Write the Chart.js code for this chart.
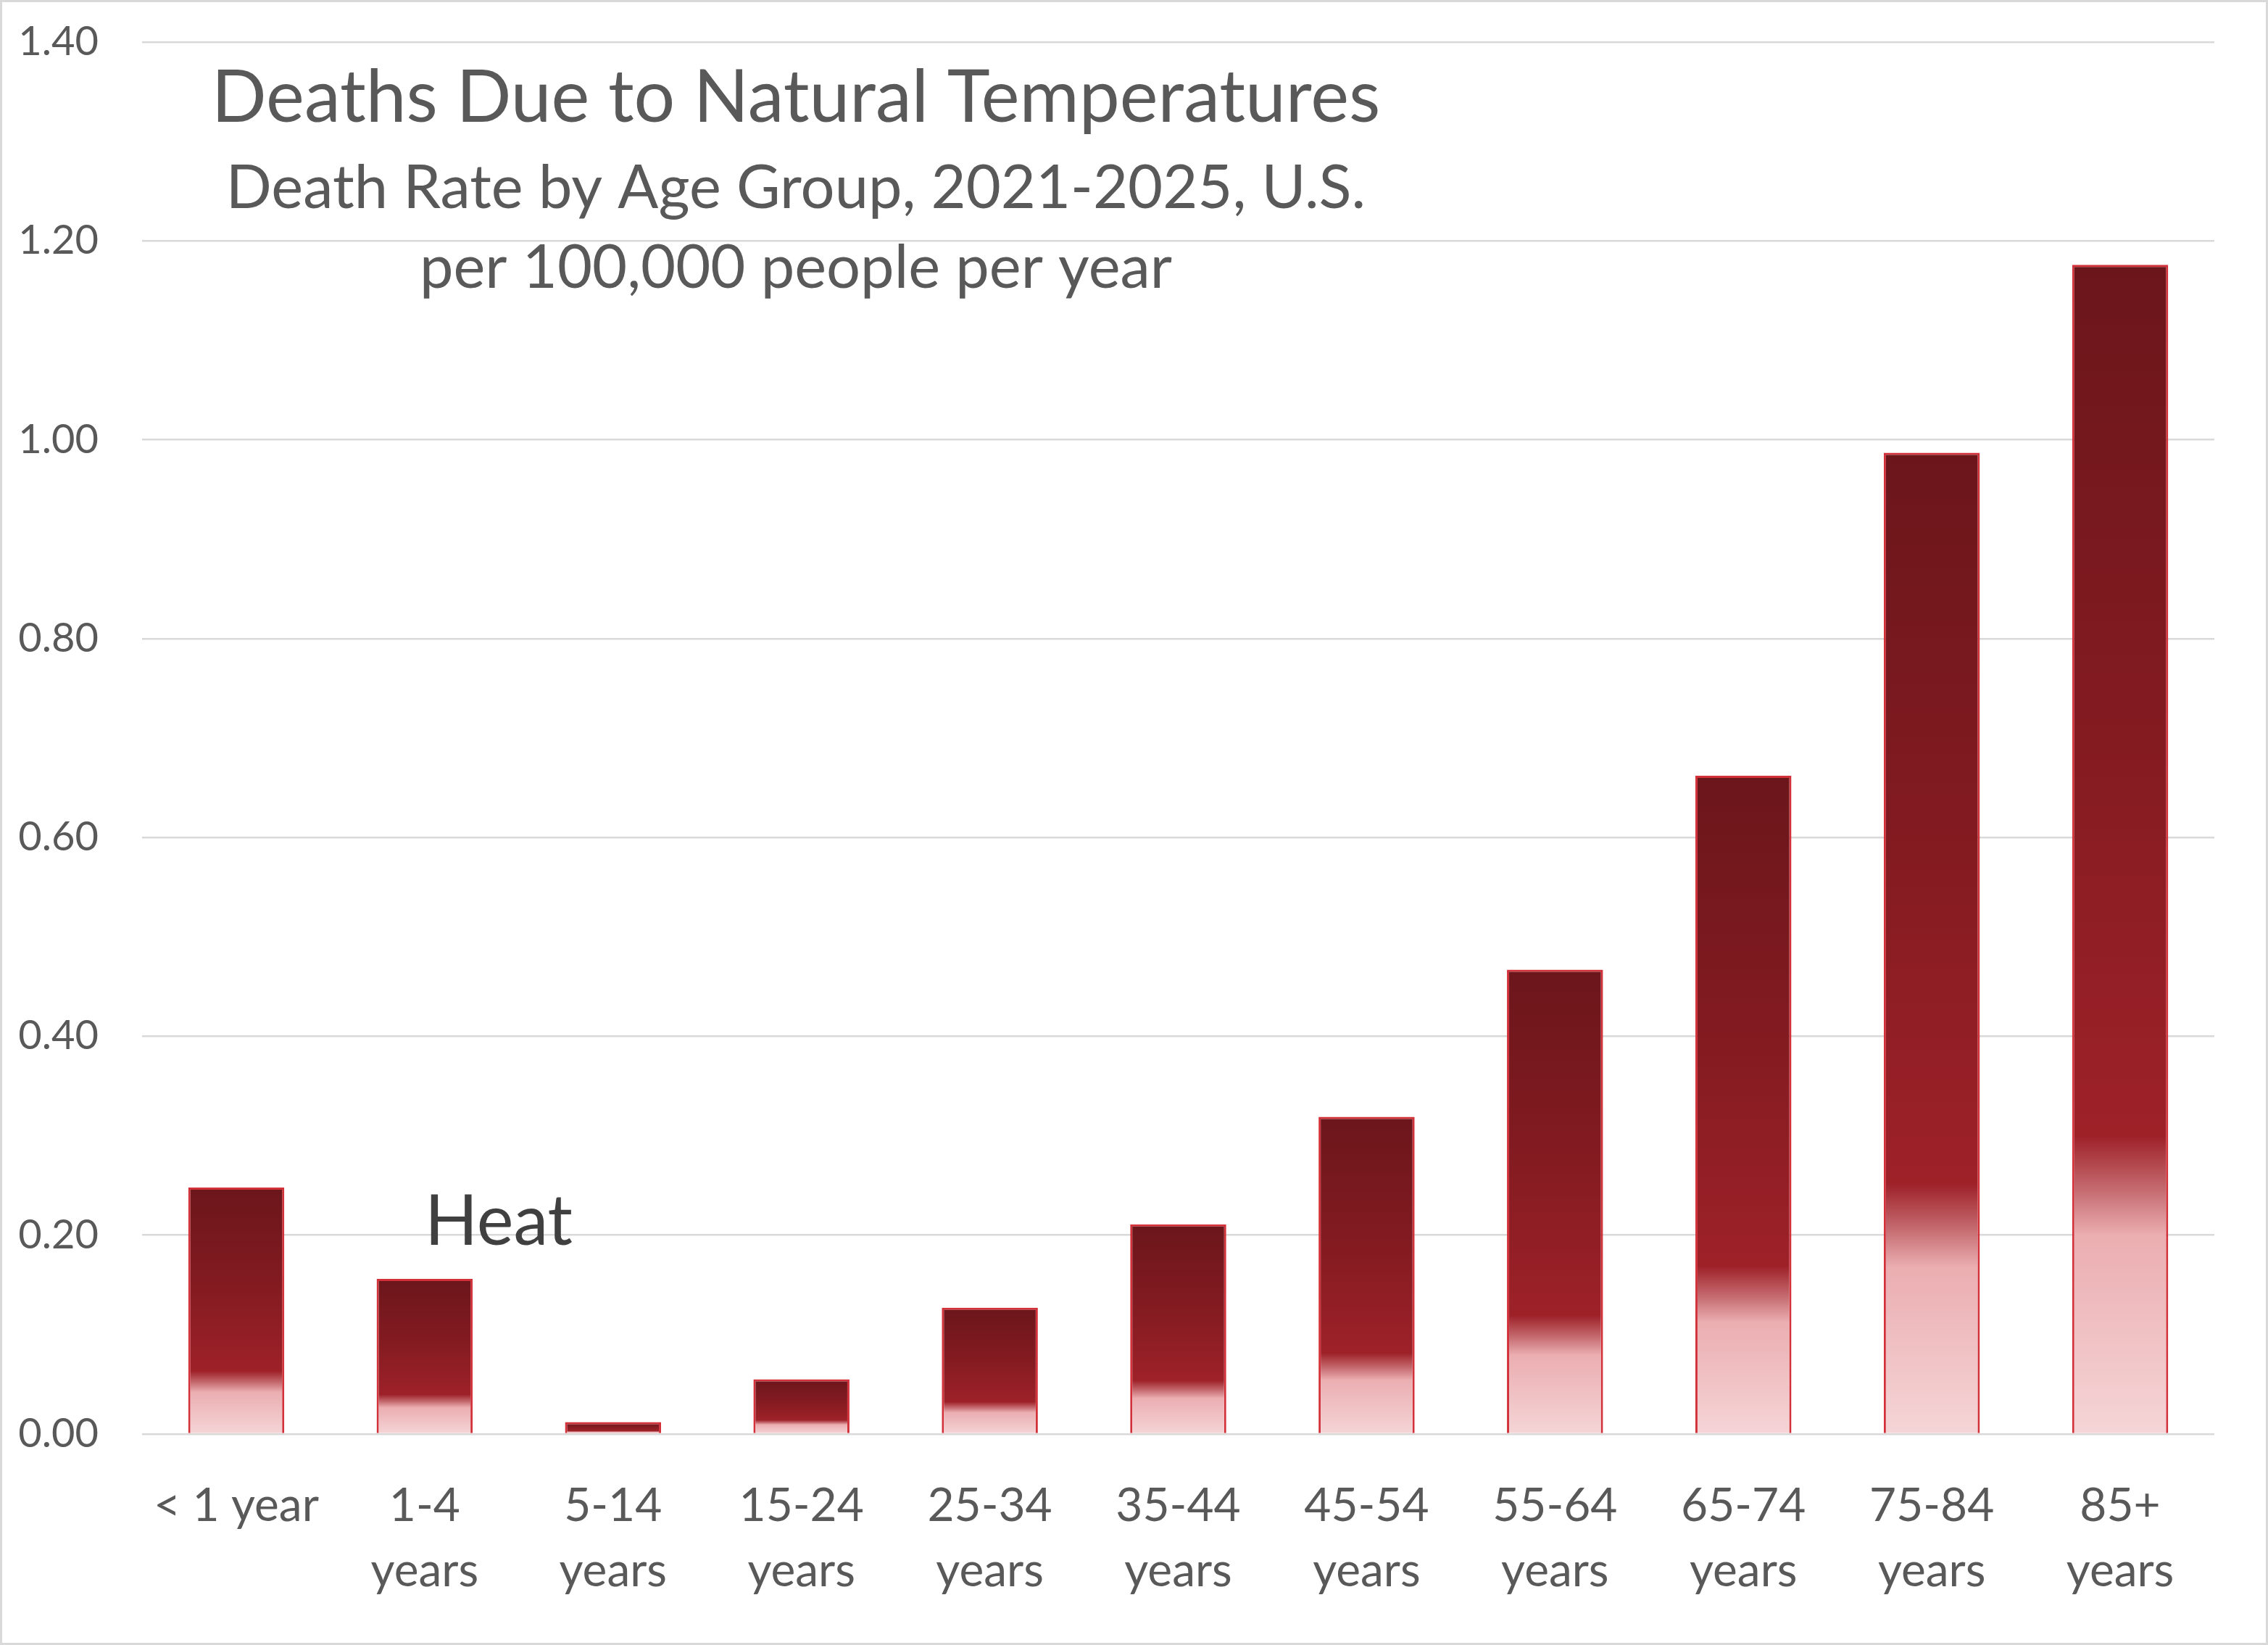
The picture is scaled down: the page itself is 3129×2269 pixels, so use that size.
<!DOCTYPE html>
<html>
<head>
<meta charset="utf-8">
<script src="https://cdn.jsdelivr.net/npm/chart.js@4.4.1/dist/chart.umd.min.js"></script>
<style>
  html, body { margin: 0; padding: 0; background: #fff; }
  #deaths_chart { display: block; outline: 3px solid #d9d9d9; outline-offset: -3px; }
</style>
</head>
<body>
<canvas id="deaths_chart" width="3129" height="2269"></canvas>
<script>
// age groups on the x axis (two lines each, like the original)
const ageGroups = [
  ['< 1 year'],
  ['1-4', 'years'],
  ['5-14', 'years'],
  ['15-24', 'years'],
  ['25-34', 'years'],
  ['35-44', 'years'],
  ['45-54', 'years'],
  ['55-64', 'years'],
  ['65-74', 'years'],
  ['75-84', 'years'],
  ['85+', 'years']
];

// heat death rate per 100,000 per year
const heatRates = [0.248, 0.156, 0.012, 0.055, 0.127, 0.211, 0.319, 0.467, 0.662, 0.987, 1.176];

const yMin = 0;
const yMax = 1.4;
const yStep = 0.2;

const seriesName = 'Heat';
const titleLines = [
  'Deaths Due to Natural Temperatures',
  'Death Rate by Age Group, 2021-2025, U.S.',
  'per 100,000 people per year'
];

const textColor = '#595959';
const fontFamily = 'Lato, "Open Sans", sans-serif';

const ctx_deaths = document.getElementById('deaths_chart');

// each bar gets its own gradient, dark at the top, pink at the bottom
function barGradient(context) {
  const chart = context.chart;
  const yScale = chart.scales.y;
  if (!yScale || !context.parsed) return '#8b1c22';
  const top = yScale.getPixelForValue(context.parsed.y);
  const bottom = yScale.getPixelForValue(0);
  if (!isFinite(top) || !isFinite(bottom) || bottom - top < 1) return '#8b1c22';
  const g = chart.ctx.createLinearGradient(0, top, 0, bottom);
  g.addColorStop(0, '#6b161b');
  g.addColorStop(0.40, '#831b21');
  g.addColorStop(0.745, '#9e2128');
  g.addColorStop(0.79, '#c4696e');
  g.addColorStop(0.83, '#ebaeb1');
  g.addColorStop(1, '#f5d5d7');
  return g;
}

const overlayText = {
  id: 'overlayText',
  afterDraw(chart) {
    const ctx = chart.ctx;
    ctx.save();
    ctx.textAlign = 'center';
    ctx.textBaseline = 'middle';
    ctx.fillStyle = textColor;
    ctx.font = `100px ${fontFamily}`;
    ctx.fillText(titleLines[0], 1098, 136);
    ctx.font = `83px ${fontFamily}`;
    ctx.fillText(titleLines[1], 1098, 260);
    ctx.fillText(titleLines[2], 1098, 370);
    // series name sits inside the plot
    ctx.fillStyle = '#404040';
    ctx.font = `96px ${fontFamily}`;
    ctx.fillText(seriesName, 688, 1686);
    ctx.restore();
  }
};

const deathsChart = new Chart(ctx_deaths, {
  type: 'bar',
  data: {
    labels: ageGroups,
    datasets: [{
      label: seriesName,
      data: heatRates,
      backgroundColor: barGradient,
      borderColor: '#d2313a',
      borderWidth: 3,
      borderSkipped: 'bottom',
      categoryPercentage: 1,
      barPercentage: 0.51
    }]
  },
  options: {
    responsive: false,
    animation: false,
    devicePixelRatio: 1,
    layout: {
      padding: { top: 58, right: 74, left: 0, bottom: 0 }
    },
    plugins: {
      legend: { display: false },
      tooltip: { enabled: false },
      title: { display: false }
    },
    scales: {
      x: {
        grid: { display: false },
        border: { display: false },
        ticks: {
          color: textColor,
          font: { family: fontFamily, size: 64, lineHeight: 1.4 },
          padding: 47,
          maxRotation: 0,
          minRotation: 0,
          autoSkip: false
        },
        afterFit: (scale) => {
          scale.height = 291;
          scale.paddingLeft = 0;
          scale.paddingRight = 0;
        }
      },
      y: {
        min: yMin,
        max: yMax,
        grid: { color: '#d9d9d9', lineWidth: 2.5, drawTicks: false },
        border: { display: false },
        ticks: {
          stepSize: yStep,
          color: textColor,
          font: { family: fontFamily, size: 56 },
          padding: 60,
          callback: (value) => Number(value).toFixed(2)
        },
        afterFit: (scale) => {
          scale.width = 196;
          scale.paddingTop = 0;
          scale.paddingBottom = 0;
        }
      }
    }
  },
  plugins: [overlayText]
});
</script>
</body>
</html>
